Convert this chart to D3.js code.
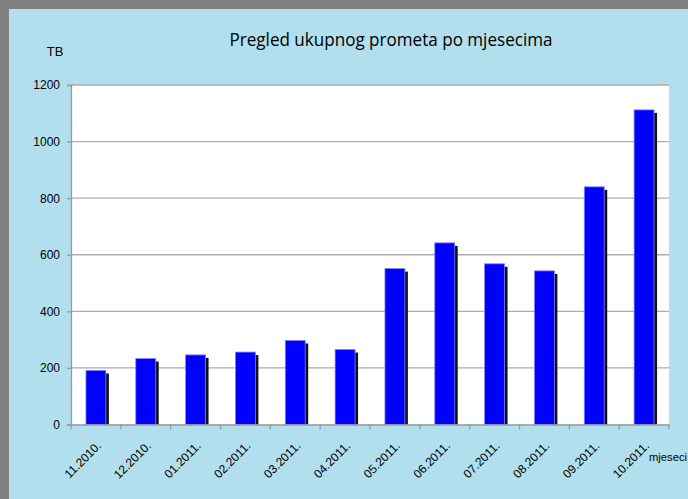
<!DOCTYPE html>
<html lang="hr">
  <head>
    <meta charset="UTF-8" />
    <title>Pregled ukupnog prometa po mjesecima</title>
    <style>
      body { margin: 0; background: #808080; }
      svg { display: block; }
    </style>
  </head>
  <body>
    <script src="https://cdn.jsdelivr.net/npm/d3@7"></script>
    <script>
      // data
      const months = ['11.2010.', '12.2010.', '01.2011.', '02.2011.', '03.2011.', '04.2011.',
        '05.2011.', '06.2011.', '07.2011.', '08.2011.', '09.2011.', '10.2011.'];
      const traffic = [191, 233, 246, 256, 297, 265, 551, 642, 568, 543, 840, 1112];
      const yTicks = [0, 200, 400, 600, 800, 1000, 1200];

      const width = 688;
      const height = 499;
      const plot = { left: 71, right: 669, top: 85, bottom: 424.5 };

      const svg = d3.select('body').append('svg')
        .attr('width', width).attr('height', height);

      // gray frame + light blue panel
      svg.append('rect').attr('width', width).attr('height', height).attr('fill', '#808080');
      svg.append('rect').attr('x', 9).attr('y', 9)
        .attr('width', width - 9).attr('height', height - 9)
        .attr('fill', '#b2dfed');

      // plot area
      svg.append('rect')
        .attr('x', plot.left).attr('y', plot.top)
        .attr('width', plot.right - plot.left).attr('height', plot.bottom - plot.top)
        .attr('fill', '#ffffff');

      const x = d3.scaleBand().domain(months).range([plot.left, plot.right]).paddingInner(0.6).paddingOuter(0.3);
      const xTick = d3.scaleBand().domain(months).range([plot.left, plot.right]);
      const y = d3.scaleLinear().domain([0, 1200]).range([plot.bottom, plot.top]);

      // gridlines
      svg.append('g')
        .selectAll('line')
        .data(yTicks.filter(d => d > 0))
        .join('line')
        .attr('x1', plot.left).attr('x2', plot.right)
        .attr('y1', d => y(d)).attr('y2', d => y(d))
        .attr('stroke', '#adadad').attr('stroke-width', 1.3);

      // bars with shadow
      const bars = svg.append('g');
      bars.selectAll('rect.shadow')
        .data(traffic)
        .join('rect')
        .attr('class', 'shadow')
        .attr('x', (d, i) => x(months[i]) + 3)
        .attr('y', d => y(d) + 3)
        .attr('width', x.bandwidth())
        .attr('height', d => y(0) - y(d) - 3)
        .attr('fill', '#111');
      bars.selectAll('rect.bar')
        .data(traffic)
        .join('rect')
        .attr('class', 'bar')
        .attr('x', (d, i) => x(months[i]))
        .attr('y', d => y(d))
        .attr('width', x.bandwidth())
        .attr('height', d => y(0) - y(d))
        .attr('fill', '#0000ff')
        .attr('stroke', '#8080ff').attr('stroke-width', 0.8);

      // y axis
      const yAxis = svg.append('g')
        .attr('transform', `translate(${plot.left},0)`)
        .call(d3.axisLeft(y).tickValues(yTicks).tickFormat(d3.format('d')).tickSize(4).tickPadding(7));
      yAxis.select('.domain').attr('stroke', '#999').attr('stroke-width', 1.3);
      yAxis.selectAll('.tick line').attr('stroke', '#999').attr('stroke-width', 1.3);
      yAxis.selectAll('.tick text')
        .attr('font-family', 'Liberation Sans, Arial, sans-serif')
        .attr('font-size', 12).attr('fill', '#000');

      // x axis
      const xAxis = svg.append('g')
        .attr('transform', `translate(0,${plot.bottom})`)
        .call(d3.axisBottom(xTick).tickSize(0).tickFormat(''));
      xAxis.select('.domain').attr('stroke', '#999').attr('stroke-width', 1.3);
      svg.append('g')
        .selectAll('line')
        .data(months.concat(['end']))
        .join('line')
        .attr('x1', (d, i) => plot.left + i * xTick.bandwidth())
        .attr('x2', (d, i) => plot.left + i * xTick.bandwidth())
        .attr('y1', plot.bottom).attr('y2', plot.bottom + 5)
        .attr('stroke', '#999').attr('stroke-width', 1.3);

      svg.append('g')
        .selectAll('text')
        .data(months)
        .join('text')
        .attr('transform', d => `translate(${xTick(d) + xTick.bandwidth() / 2 + 6},${plot.bottom + 22}) rotate(-45)`)
        .attr('text-anchor', 'end')
        .attr('font-family', 'Liberation Sans, Arial, sans-serif')
        .attr('font-size', 12)
        .attr('fill', '#000')
        .text(d => d);

      // titles
      svg.append('text')
        .attr('x', 391).attr('y', 46)
        .attr('text-anchor', 'middle')
        .attr('font-family', 'Open Sans, sans-serif')
        .attr('font-size', 18)
        .attr('textLength', 323)
        .attr('lengthAdjust', 'spacingAndGlyphs')
        .attr('fill', '#000')
        .text('Pregled ukupnog prometa po mjesecima');

      svg.append('text')
        .attr('x', 55).attr('y', 56)
        .attr('text-anchor', 'middle')
        .attr('font-family', 'Liberation Sans, Arial, sans-serif')
        .attr('font-size', 13)
        .attr('fill', '#000')
        .text('TB');

      svg.append('text')
        .attr('x', 649).attr('y', 461)
        .attr('font-family', 'Liberation Sans, Arial, sans-serif')
        .attr('font-size', 11)
        .attr('textLength', 38)
        .attr('lengthAdjust', 'spacingAndGlyphs')
        .attr('fill', '#000')
        .text('mjeseci');
    </script>
  </body>
</html>
